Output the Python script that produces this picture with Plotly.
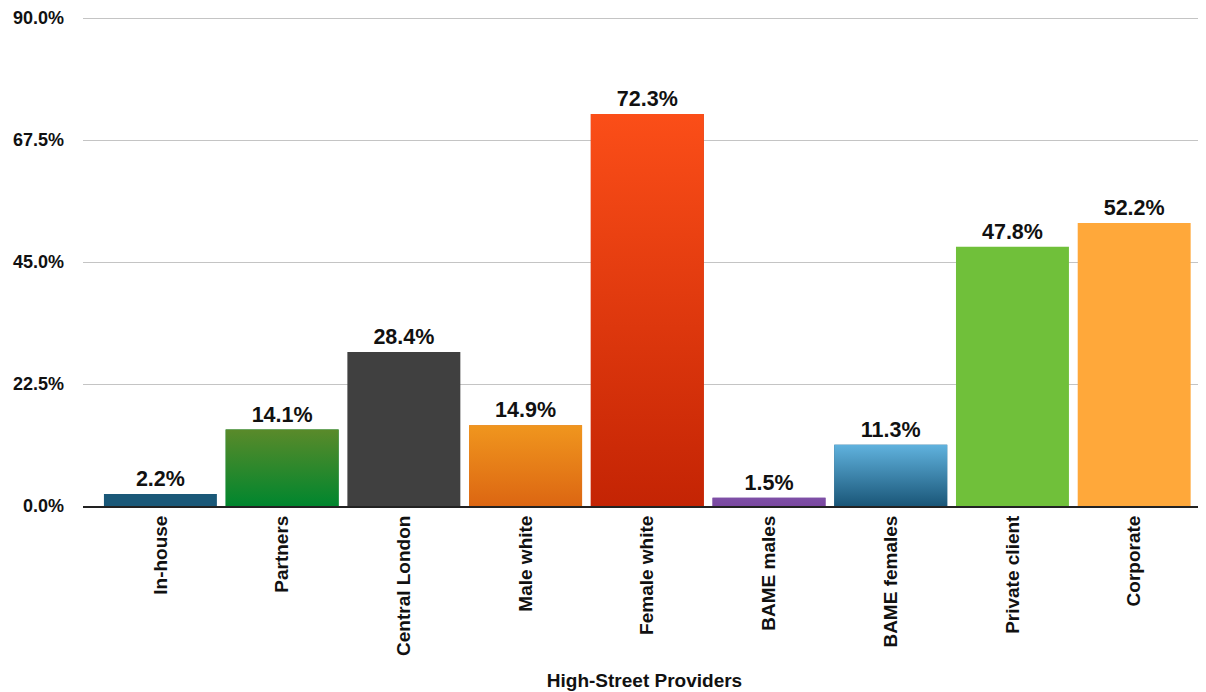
import plotly.graph_objects as go

categories = ["In-house", "Partners", "Central London", "Male white", "Female white",
              "BAME males", "BAME females", "Private client", "Corporate"]
values = [2.2, 14.1, 28.4, 14.9, 72.3, 1.5, 11.3, 47.8, 52.2]
# (top colour, bottom colour) per bar
top_colors = ["#1a5878", "#5a8a2a", "#404040", "#f0961e", "#fb4e18",
              "#7e4fa6", "#60b2de", "#70c03a", "#ffa83a"]
bottom_colors = ["#1a5878", "#00862e", "#404040", "#dc6612", "#c42404",
                 "#7a48a0", "#1a5678", "#70c03a", "#ffa83a"]
y_ticks = [0, 22.5, 45, 67.5, 90]
y_tick_labels = ["0.0%", "22.5%", "45.0%", "67.5%", "90.0%"]
x_title = "High-Street Providers"

BAR_W = 0.928
FONT = "Liberation Sans, Arial, sans-serif"
xs = list(range(len(categories)))

fig = go.Figure()
fig.add_trace(go.Bar(
    x=xs, y=values, width=BAR_W,
    marker=dict(color=bottom_colors, line=dict(width=0)),
    texttemplate="%{y:.1f}%", textposition="outside",
    textfont=dict(family=FONT, size=21.5, color="#111", weight="bold"),
    cliponaxis=False, showlegend=False, hoverinfo="skip",
))

# gradient overlays for bars whose top and bottom colours differ
for i, (v, tc, bc) in enumerate(zip(values, top_colors, bottom_colors)):
    if tc == bc:
        continue
    x0, x1 = i - BAR_W / 2, i + BAR_W / 2
    fig.add_trace(go.Scatter(
        x=[x0, x1, x1, x0, x0], y=[0, 0, v, v, 0],
        mode="lines", line=dict(width=0), fill="toself",
        fillgradient=dict(type="vertical", colorscale=[[0, bc], [1, tc]]),
        showlegend=False, hoverinfo="skip",
    ))

fig.update_layout(
    width=1198, height=684,
    margin=dict(l=75, r=0, t=8, b=186),
    paper_bgcolor="white", plot_bgcolor="white",
    font=dict(family=FONT, color="#111"),
    xaxis=dict(
        range=[-0.636, 8.59], tickmode="array", tickvals=xs, ticktext=categories,
        tickangle=-90, tickfont=dict(family=FONT, size=19, weight="bold", color="#111"),
        ticks="", ticklabelstandoff=0,
        showgrid=False, zeroline=False,
        showline=True, linecolor="#222", linewidth=2,
        title=dict(text=x_title, standoff=19,
                   font=dict(family=FONT, size=19, weight="bold", color="#111")),
        automargin=False,
    ),
    yaxis=dict(
        range=[0, 90.37], tickmode="array", tickvals=y_ticks, ticktext=y_tick_labels,
        tickfont=dict(family=FONT, size=18, weight="bold", color="#111"),
        showgrid=True, gridcolor="#c4c4c4", gridwidth=1,
        zeroline=False, ticks="", ticklabelstandoff=18,
        showline=False, automargin=False,
    ),
    bargap=0.07,
)

fig.write_html("out.html")
